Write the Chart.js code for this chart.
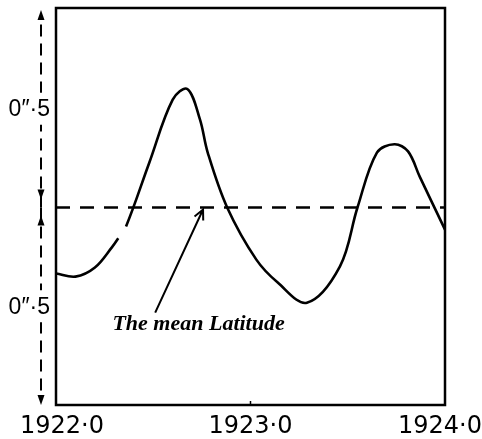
<!DOCTYPE html>
<html lang="en">
<head>
    <meta charset="UTF-8">
    <title>Variation of Latitude 1922–1924</title>
    <script src="https://cdn.jsdelivr.net/npm/chart.js"></script>
    <style>
        html, body {
            margin: 0;
            padding: 0;
            background: #fff;
        }
        #wrap {
            width: 482px;
            height: 439px;
        }
    </style>
</head>
<body>
    <div id="wrap"><canvas id="latChart" width="482" height="439"></canvas></div>

    <script>
        // Epoch (years) and latitude (seconds of arc, measured from the mean)
        const years = [
            1922.00, 1922.10, 1922.20, 1922.29, 1922.32, 1922.36, 1922.48,
            1922.60, 1922.675, 1922.74, 1922.78, 1922.88, 1923.03, 1923.14,
            1923.29, 1923.46, 1923.55, 1923.65, 1923.74, 1923.81, 1923.87,
            1924.00
        ];
        const latitude = [
            -0.167, -0.175, -0.152, -0.099, -0.078, -0.048, 0.114,
            0.273, 0.300, 0.223, 0.139, 0.000, -0.132, -0.190,
            -0.241, -0.149, 0.000, 0.139, 0.160, 0.142, 0.078,
            -0.056
        ];
        const yearTicks = [1922, 1923, 1924];
        const meanLatitude = 0;
        const halfSecond = 0.5;
        const scaleLabel = '0\u2033\u00b75';
        const noteText = 'The mean Latitude';

        // the pen lifts for one stretch of the curve
        const penLiftAfter = 4;

        // pointer from the note to the mean line (data units)
        const noteTail = { x: 1922.51, y: -0.266 };
        const noteTip = { x: 1922.756, y: -0.005 };
        const noteAt = { x: 1922.29, y: -0.311 };

        function arrowHead(ctx, x, y, dir) {
            // small filled head, dir = -1 up, +1 down
            ctx.beginPath();
            ctx.moveTo(x, y);
            ctx.lineTo(x - 3.5, y - dir * 10);
            ctx.lineTo(x + 3.5, y - dir * 10);
            ctx.closePath();
            ctx.fill();
        }

        const figurePlugin = {
            id: 'figure',
            afterDraw(chart) {
                const { ctx, chartArea: a, scales: { x, y } } = chart;
                ctx.save();
                ctx.strokeStyle = '#000';
                ctx.fillStyle = '#000';

                // frame
                ctx.lineWidth = 2.5;
                ctx.strokeRect(a.left, a.top, a.right - a.left, a.bottom - a.top);

                // mid tick on the time axis
                ctx.lineWidth = 1.5;
                const midX = x.getPixelForValue(yearTicks[1]);
                ctx.beginPath();
                ctx.moveTo(midX, a.bottom);
                ctx.lineTo(midX, a.bottom - 4);
                ctx.stroke();

                // year labels
                ctx.font = '24px "DejaVu Sans"';
                ctx.textBaseline = 'alphabetic';
                yearTicks.forEach(v => {
                    const txt = v.toFixed(1).replace('.', '\u00b7');
                    const w = ctx.measureText(txt).width;
                    let left = x.getPixelForValue(v) - w / 2;
                    left = Math.max(20, Math.min(chart.width - w, left));
                    ctx.fillText(txt, left, a.bottom + 28);
                });

                // half-second scale arrows on the left
                const ax = a.left - 15;
                const meanPx = y.getPixelForValue(meanLatitude);
                [halfSecond, -halfSecond].forEach(v => {
                    const dir = v > 0 ? -1 : 1;
                    const inner = meanPx + dir * 8;
                    const outer = y.getPixelForValue(v);
                    ctx.lineWidth = 2;
                    ctx.setLineDash([12, 7]);
                    ctx.beginPath();
                    ctx.moveTo(ax, inner - dir * 8);
                    ctx.lineTo(ax, outer - dir * 8);
                    ctx.stroke();
                    ctx.setLineDash([]);
                    arrowHead(ctx, ax, outer, dir);
                    arrowHead(ctx, ax, inner, -dir);

                    const ly = y.getPixelForValue(v / 2);
                    ctx.fillStyle = '#fff';
                    ctx.fillRect(4, ly - 16, a.left - 8, 32);
                    ctx.fillStyle = '#000';
                    ctx.font = '23px "Liberation Sans"';
                    ctx.textAlign = 'right';
                    ctx.textBaseline = 'middle';
                    ctx.fillText(scaleLabel, a.left - 6, ly + 1);
                    ctx.textAlign = 'left';
                });

                // pointer to the mean line
                const tx = x.getPixelForValue(noteTail.x), ty = y.getPixelForValue(noteTail.y);
                const hx = x.getPixelForValue(noteTip.x), hy = y.getPixelForValue(noteTip.y);
                const ang = Math.atan2(hy - ty, hx - tx);
                ctx.lineWidth = 2;
                ctx.beginPath();
                ctx.moveTo(tx, ty);
                ctx.lineTo(hx, hy);
                ctx.moveTo(hx - 11 * Math.cos(ang - 0.45), hy - 11 * Math.sin(ang - 0.45));
                ctx.lineTo(hx, hy);
                ctx.lineTo(hx - 11 * Math.cos(ang + 0.45), hy - 11 * Math.sin(ang + 0.45));
                ctx.stroke();

                ctx.font = 'italic bold 22px "Liberation Serif"';
                ctx.textBaseline = 'alphabetic';
                ctx.fillText(noteText, x.getPixelForValue(noteAt.x), y.getPixelForValue(noteAt.y));

                ctx.restore();
            }
        };

        const ctx = document.getElementById('latChart').getContext('2d');
        new Chart(ctx, {
            type: 'line',
            data: {
                datasets: [
                    {
                        data: years.map((t, i) => ({ x: t, y: latitude[i] })),
                        borderColor: '#000',
                        borderWidth: 2.6,
                        pointRadius: 0,
                        tension: 0.35,
                        segment: {
                            borderColor: c => c.p0DataIndex === penLiftAfter ? 'rgba(0,0,0,0)' : undefined
                        }
                    },
                    {
                        data: [
                            { x: yearTicks[0], y: meanLatitude },
                            { x: yearTicks[yearTicks.length - 1], y: meanLatitude }
                        ],
                        borderColor: '#000',
                        borderWidth: 2.3,
                        borderDash: [14, 10],
                        pointRadius: 0
                    }
                ]
            },
            options: {
                responsive: false,
                animation: false,
                layout: {
                    padding: { left: 56, right: 37, top: 8, bottom: 34 }
                },
                plugins: {
                    legend: { display: false },
                    tooltip: { enabled: false }
                },
                scales: {
                    x: { type: 'linear', min: 1922, max: 1924, display: false },
                    y: { min: -0.5, max: 0.505, display: false }
                }
            },
            plugins: [figurePlugin]
        });
    </script>
</body>
</html>
